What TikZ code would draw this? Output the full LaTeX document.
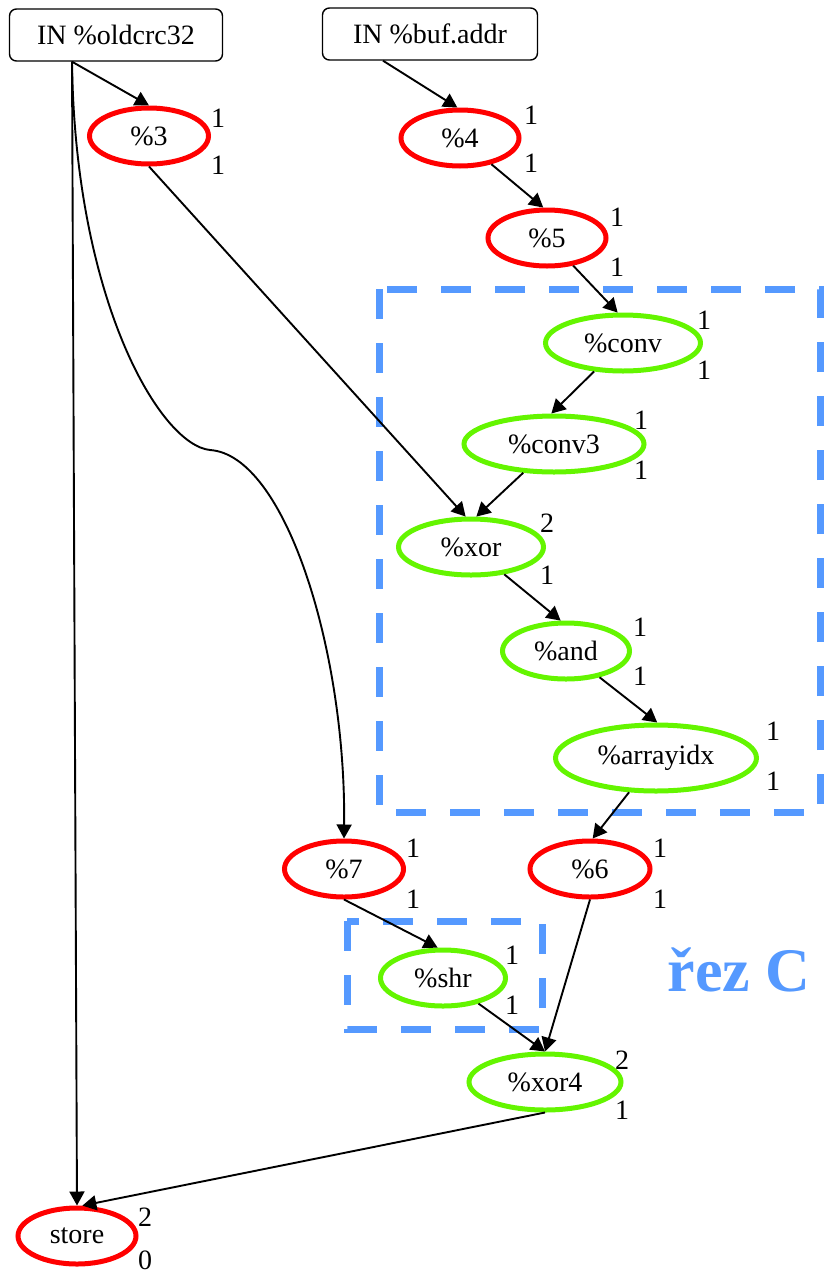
\documentclass[tikz,border=0pt]{standalone}
\usepackage{fontspec}
\setmainfont{Liberation Serif}
\usetikzlibrary{arrows.meta,shapes.geometric}
\definecolor{nred}{RGB}{255,0,0}
\definecolor{ngreen}{RGB}{100,245,0}
\definecolor{cutblue}{RGB}{85,153,255}
\begin{document}
\begin{tikzpicture}[x=1pt,y=-1pt,
  every node/.style={font=\fontsize{28}{32}\selectfont},
  inbox/.style={draw, rounded corners=7pt, line width=1.4pt, minimum height=52pt, inner sep=0pt},
  opnode/.style={ellipse, line width=5pt, inner sep=0pt, minimum height=56pt},
  rednode/.style={opnode, draw=nred},
  greennode/.style={opnode, draw=ngreen},
  num/.style={inner sep=0pt},
  link/.style={draw, line width=1.9pt, -{Triangle[length=14pt,width=15pt]}},
  cut/.style={draw=cutblue, line width=7pt, dash pattern=on 30pt off 24pt}
]
\useasboundingbox (0,0) rectangle (826,1274);

% cut regions
\draw[cut] (379,289) rectangle (820,812);
\draw[cut] (347,921) rectangle (542,1029);
\node[font=\fontsize{62}{66}\selectfont\bfseries, text=cutblue, inner sep=0pt] (cutlabel) at (739,970) {řez C};

% input boxes
\node[inbox, minimum width=213pt] (oldcrc) at (116,35) {IN \%oldcrc32};
\node[inbox, minimum width=215pt] (bufaddr) at (430,34) {IN \%buf.addr};

% operation nodes
\node[rednode, minimum width=119pt] (n3) at (149,136) {\%3};
\node[rednode, minimum width=118pt] (n4) at (460,138) {\%4};
\node[rednode, minimum width=118pt] (n5) at (547,238) {\%5};
\node[greennode, minimum width=155pt] (conv) at (623,343) {\%conv};
\node[greennode, minimum width=180pt] (conv3) at (554,444) {\%conv3};
\node[greennode, minimum width=145pt] (xor) at (471,547) {\%xor};
\node[greennode, minimum width=127pt] (and) at (566,651) {\%and};
\node[greennode, minimum width=201pt, minimum height=66pt] (arrayidx) at (656,758) {\%arrayidx};
\node[rednode, minimum width=119pt] (n7) at (344,869) {\%7};
\node[rednode, minimum width=120pt] (n6) at (590,869) {\%6};
\node[greennode, minimum width=125pt] (shr) at (443,978) {\%shr};
\node[greennode, minimum width=152pt] (xor4) at (545,1082) {\%xor4};
\node[rednode, minimum width=118pt] (store) at (77,1236) {store};

% numbers
\node[num] (n3a) at (218,118) {1};
\node[num] (n3b) at (218,165) {1};
\node[num] (n4a) at (531,115) {1};
\node[num] (n4b) at (531,163) {1};
\node[num] (n5a) at (617,217) {1};
\node[num] (n5b) at (617,267) {1};
\node[num] (conva) at (704,320) {1};
\node[num] (convb) at (704,370) {1};
\node[num] (conv3a) at (641,420) {1};
\node[num] (conv3b) at (641,470) {1};
\node[num] (xora) at (547,523) {2};
\node[num] (xorb) at (547,575) {1};
\node[num] (anda) at (640,627) {1};
\node[num] (andb) at (640,676) {1};
\node[num] (arra) at (773,731) {1};
\node[num] (arrb) at (773,781) {1};
\node[num] (n7a) at (413,848) {1};
\node[num] (n7b) at (413,899) {1};
\node[num] (n6a) at (660,848) {1};
\node[num] (n6b) at (660,899) {1};
\node[num] (shra) at (512,955) {1};
\node[num] (shrb) at (512,1005) {1};
\node[num] (xor4a) at (622,1060) {2};
\node[num] (xor4b) at (622,1110) {1};
\node[num] (storea) at (145,1217) {2};
\node[num] (storeb) at (145,1260) {0};

% connectors
\coordinate (oc) at ([xshift=-44pt]oldcrc.south);
\coordinate (bc) at ([xshift=-47pt]bufaddr.south);
\coordinate (bend) at (210,450);
\draw[link] (oc) -- (n3.north);
\draw[link] (oc) -- (store.north);
\draw[line width=1.9pt] (oc) .. controls (75,300) and (160,445) .. (bend);
\draw[link] (bend) .. controls (285,455) and (346,650) .. (n7.north);
\draw[link] (bc) -- (n4.95);
\draw[link] (n4) -- (n5.97);
\draw[link] (n5) -- (conv.100);
\draw[link] (conv) -- (conv3.95);
\draw[link] (conv3) -- (xor.80);
\draw[link] (n3.south) -- (xor.100);
\draw[link] (xor) -- (and.100);
\draw[link] (and) -- (arrayidx.88);
\draw[link] (arrayidx) -- (n6.85);
\draw[link] (n7.south) -- (shr.100);
\draw[link] (shr) -- (xor4.north);
\draw[link] (n6.south) -- (xor4.north);
\draw[link] (xor4.south) -- (store.80);
\end{tikzpicture}
\end{document}
